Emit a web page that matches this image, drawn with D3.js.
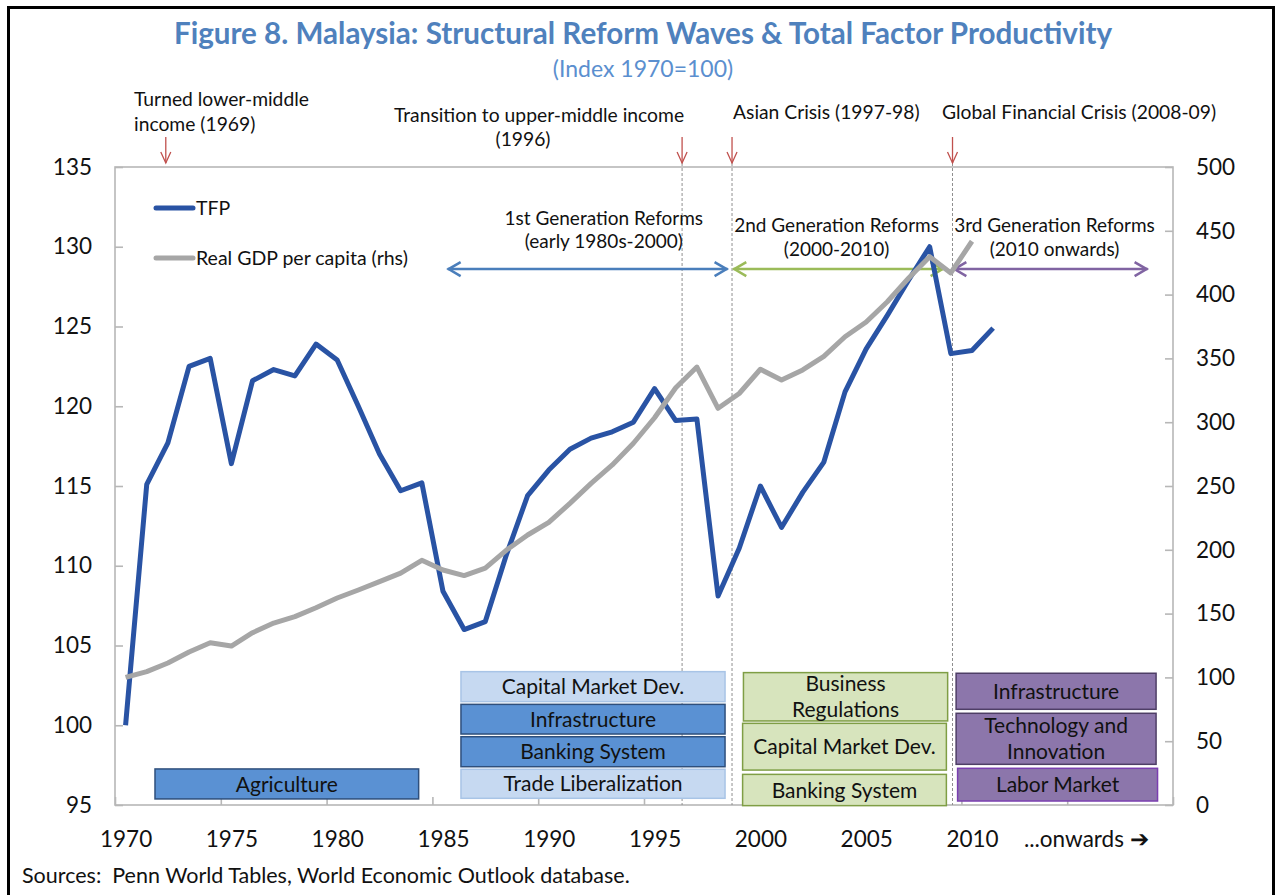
<!DOCTYPE html>
<html>
<head>
<meta charset="utf-8">
<script src="https://cdn.jsdelivr.net/npm/d3@7/dist/d3.min.js"></script>
<style>
  body { margin: 0; background: #fff; }
  text { font-family: Lato, "Open Sans", sans-serif; fill: #111; }
</style>
</head>
<body>
<svg id="chart" width="1278" height="895"></svg>
<script>
// ---- data ----
const tfpYears = d3.range(1970, 2012);
const tfp = [100.0, 115.1, 117.7, 122.5, 123.0, 116.4, 121.6, 122.3, 121.9, 123.9,
             122.9, 120.0, 117.0, 114.7, 115.2, 108.4, 106.0, 106.5, 110.7, 114.4,
             116.0, 117.3, 118.0, 118.4, 119.0, 121.1, 119.1, 119.2, 108.1, 111.1,
             115.0, 112.4, 114.6, 116.5, 120.9, 123.6, 125.7, 127.9, 130.0, 123.3,
             123.5, 124.9];
const gdpYears = d3.range(1970, 2011);
const gdp = [100, 104.5, 111.3, 119.9, 127.2, 124.6, 135.0, 142.6, 147.6, 154.6,
             162.2, 168.5, 175.0, 181.7, 191.8, 184.2, 179.8, 185.6, 199.8, 211.6,
             221.5, 236.4, 252.1, 266.5, 283.5, 303.5, 327.0, 343.2, 310.9, 322.5,
             341.5, 333.0, 341.0, 351.6, 367.0, 378.5, 394.4, 412.8, 429.7, 417.0,
             441.8];
const xLabelYears = [1970, 1975, 1980, 1985, 1990, 1995, 2000, 2005, 2010, 2015];
const leftTicks = d3.range(95, 136, 5);
const rightTicks = d3.range(0, 501, 50);

// events marked with red arrows (year position as drawn)
const eventYears = [1971.9, 1996.3, 1998.66, 2009.08];
const dashedYears = [1996.3, 1998.66, 2009.08];

// reform waves: arrow extents (years) and captions
const waveFrom = [1985.22, 1998.72, 2009.12];
const waveTo = [1998.45, 2008.66, 2018.3];
const waveCaption = [["1st Generation Reforms", "(early 1980s-2000)"],
                     ["2nd Generation Reforms", "(2000-2010)"],
                     ["3rd Generation Reforms", "(2010 onwards)"]];
const waveCaptionYear = [1992.6, 2003.6, 2013.9];

// reform boxes: [wave, label lines, from year, to year, top, bottom (left-axis units)]
const reformBoxes = [
  ["dark", ["Agriculture"], 1971.39, 1983.85, 97.26, 95.38],
  ["light", ["Capital Market Dev."], 1985.85, 1998.33, 103.36, 101.48],
  ["dark", ["Infrastructure"], 1985.85, 1998.33, 101.31, 99.45],
  ["dark", ["Banking System"], 1985.85, 1998.33, 99.28, 97.40],
  ["light", ["Trade Liberalization"], 1985.85, 1998.33, 97.24, 95.42],
  ["green", ["Business", "Regulations"], 1999.2, 2008.85, 103.30, 100.27],
  ["green", ["Capital Market Dev."], 1999.16, 2008.79, 100.12, 97.19],
  ["green", ["Banking System"], 1999.16, 2008.79, 96.92, 94.96],
  ["purple", ["Infrastructure"], 2009.25, 2018.7, 103.26, 101.0],
  ["purple", ["Technology and", "Innovation"], 2009.25, 2018.7, 100.75, 97.55],
  ["purpleB", ["Labor Market"], 2009.32, 2018.77, 97.30, 95.25]
];

// ---- styles ----
const boxFill = { dark: "#5A91D3", light: "#C6D9F1", green: "#D7E4BD", purple: "#8C76AB", purpleB: "#8C76AB" };
const boxStroke = { dark: "#2E4F7C", light: "#A8C4E6", green: "#7F9E45", purple: "#4E3E66", purpleB: "#7A3FB0" };
const waveColor = ["#4A7EBB", "#9BBB59", "#8064A2"];
const tfpColor = "#2953A4";
const gdpColor = "#A6A6A6";
const red = "#C0504D";

const svg = d3.select("#chart");
const L = 115, R = 1173, T = 167, B = 805;

const x = d3.scaleLinear().domain([1969.5, 2019.5]).range([L, R]);
const yL = d3.scaleLinear().domain([95, 135]).range([B, T]);
const yR = d3.scaleLinear().domain([0, 500]).range([B, T]);

// outer frame
svg.append("rect").attr("x", 8.5).attr("y", 7.5).attr("width", 1265).attr("height", 920)
  .attr("fill", "none").attr("stroke", "#000").attr("stroke-width", 3);

// title
svg.append("text").attr("x", 643).attr("y", 44).attr("text-anchor", "middle")
  .style("font-size", "29.6px").style("font-weight", "bold").style("fill", "#4F81BD")
  .text("Figure 8. Malaysia: Structural Reform Waves & Total Factor Productivity");
svg.append("text").attr("x", 643).attr("y", 77).attr("text-anchor", "middle")
  .style("font-size", "23px").style("fill", "#5B8FCF")
  .text("(Index 1970=100)");

// plot frame
svg.append("rect").attr("x", L).attr("y", T).attr("width", R - L).attr("height", B - T)
  .attr("fill", "none").attr("stroke", "#B7B7B7").attr("stroke-width", 1.6);

// axes
const gLeft = svg.append("g").attr("transform", `translate(${L},0)`)
  .call(d3.axisLeft(yL).tickValues(leftTicks).tickSize(-8).tickSizeOuter(0).tickPadding(23));
const gRight = svg.append("g").attr("transform", `translate(${R},0)`)
  .call(d3.axisRight(yR).tickValues(rightTicks).tickSize(-8).tickSizeOuter(0).tickPadding(23));
const gBottomTicks = svg.append("g").attr("transform", `translate(0,${B})`)
  .call(d3.axisBottom(x).tickValues(d3.range(1969.5, 2020, 5)).tickSize(-8).tickSizeOuter(0).tickFormat(""));
const gBottom = svg.append("g").attr("transform", `translate(0,${B})`)
  .call(d3.axisBottom(x).tickValues(xLabelYears).tickSize(0).tickPadding(26)
    .tickFormat(d => d === 2015 ? "...onwards \u2794" : d));
[gLeft, gRight, gBottomTicks, gBottom].forEach(g => {
  g.select(".domain").remove();
  g.selectAll("line").attr("stroke", "#B7B7B7").attr("stroke-width", 1.6);
  g.selectAll("text").style("font-size", "22.5px").style("font-family", "Lato, sans-serif").attr("fill", "#111");
});
gBottom.selectAll("text").filter(d => d === 2015).attr("dx", 8);

// dashed event lines
svg.append("g").selectAll("line").data(dashedYears).join("line")
  .attr("x1", d => x(d)).attr("x2", d => x(d)).attr("y1", 163).attr("y2", B)
  .attr("stroke", "#8F8F8F").attr("stroke-width", 1).attr("stroke-dasharray", "3,2");

// red event arrows
const ev = svg.append("g").attr("stroke", red).attr("stroke-width", 1.3).attr("fill", "none");
eventYears.forEach(d => {
  ev.append("line").attr("x1", x(d)).attr("x2", x(d)).attr("y1", 137).attr("y2", 163);
  ev.append("path").attr("d", `M${x(d) - 5},152 L${x(d)},163 L${x(d) + 5},152`);
});

// event labels
const noteFont = "19.3px";
[["Turned lower-middle", 134, 106, "start"], ["income (1969)", 134, 131, "start"],
 ["Transition to upper-middle income", 539, 122, "middle"], ["(1996)", 523, 146, "middle"],
 ["Asian Crisis (1997-98)", 733, 119, "start"],
 ["Global Financial Crisis (2008-09)", 942, 119, "start"]].forEach(([t, px, py, a]) => {
  svg.append("text").attr("x", px).attr("y", py).attr("text-anchor", a)
    .style("font-size", noteFont).text(t);
});

// reform boxes
const boxG = svg.append("g");
reformBoxes.forEach(([wave, lines, x0, x1, top, bot]) => {
  boxG.append("rect").attr("x", x(x0)).attr("y", yL(top))
    .attr("width", x(x1) - x(x0)).attr("height", yL(bot) - yL(top))
    .attr("fill", boxFill[wave]).attr("stroke", boxStroke[wave]).attr("stroke-width", 1.5);
  const cx = (x(x0) + x(x1)) / 2, cy = (yL(top) + yL(bot)) / 2;
  const lh = 26;
  lines.forEach((t, i) => {
    boxG.append("text").attr("x", cx).attr("y", cy + (i - (lines.length - 1) / 2) * lh)
      .attr("dy", "0.36em").attr("text-anchor", "middle").style("font-size", "21px").text(t);
  });
});

// reform-wave arrows
const arrowY = yL(128.6);
waveFrom.forEach((f, i) => {
  const g = svg.append("g").attr("stroke", waveColor[i]).attr("stroke-width", 2.5).attr("fill", "none");
  const a = x(f), b = x(waveTo[i]);
  g.append("line").attr("x1", a).attr("x2", b).attr("y1", arrowY).attr("y2", arrowY);
  g.append("path").attr("d", `M${a + 13},${arrowY - 7} L${a + 1},${arrowY} L${a + 13},${arrowY + 7}`);
  g.append("path").attr("d", `M${b - 13},${arrowY - 7} L${b - 1},${arrowY} L${b - 13},${arrowY + 7}`);
  const off = i === 0 ? [-44, -21] : [-37, -13];
  waveCaption[i].forEach((t, j) => {
    svg.append("text").attr("x", x(waveCaptionYear[i])).attr("y", arrowY + off[j])
      .attr("text-anchor", "middle").style("font-size", "19px").text(t);
  });
});

// series
const tfpLine = d3.line().x((d, i) => x(tfpYears[i])).y(d => yL(d));
const gdpLine = d3.line().x((d, i) => x(gdpYears[i])).y(d => yR(d));
svg.append("path").datum(tfp).attr("d", tfpLine).attr("fill", "none")
  .attr("stroke", tfpColor).attr("stroke-width", 5).attr("stroke-linejoin", "round");
svg.append("path").datum(gdp).attr("d", gdpLine).attr("fill", "none")
  .attr("stroke", gdpColor).attr("stroke-width", 5).attr("stroke-linejoin", "round");

// legend
const legend = [["TFP", tfpColor, 208], ["Real GDP per capita (rhs)", gdpColor, 258]];
legend.forEach(([t, c, ly]) => {
  svg.append("line").attr("x1", 156).attr("x2", 193).attr("y1", ly).attr("y2", ly)
    .attr("stroke", c).attr("stroke-width", 5).attr("stroke-linecap", "round");
  svg.append("text").attr("x", 196).attr("y", ly).attr("dy", "0.36em")
    .style("font-size", "19.5px").text(t);
});

// source note
svg.append("text").attr("x", 22).attr("y", 883).style("font-size", "21.5px")
  .text("Sources:\u00a0\u00a0Penn World Tables, World Economic Outlook database.");
</script>
</body>
</html>
